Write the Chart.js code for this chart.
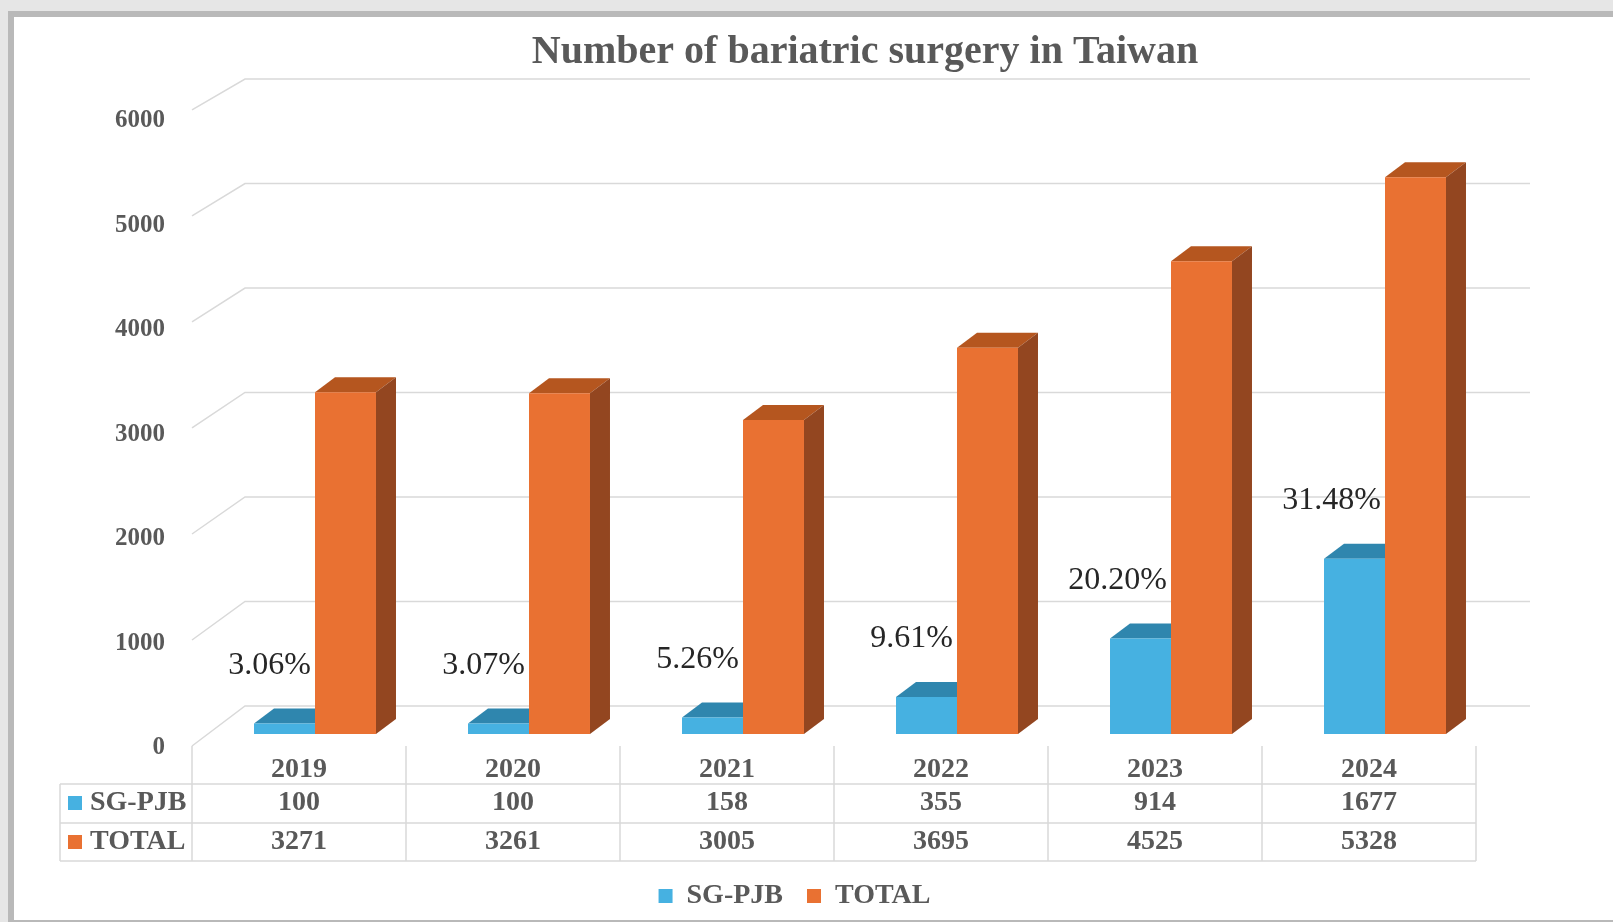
<!DOCTYPE html>
<html>
<head>
<meta charset="utf-8">
<title>Number of bariatric surgery in Taiwan</title>
<script src="https://cdn.jsdelivr.net/npm/chart.js@4.4.1/dist/chart.umd.min.js"></script>
<style>
    body { margin: 0; background: #e6e6e6; overflow: hidden; }
    .frame { position: absolute; left: 8px; top: 11px; right: 0; bottom: 0; background: #b9b9b9; }
    .panel { position: absolute; left: 14px; top: 17px; right: 0; bottom: 2px; background: #ffffff; }
    #chart { position: absolute; left: 0; top: 0; }
</style>
</head>
<body>
<div class="frame"></div>
<div class="panel"></div>
<canvas id="chart" width="1613" height="922"></canvas>
<script>
const years = ['2019', '2020', '2021', '2022', '2023', '2024'];
const sgPjb = [100, 100, 158, 355, 914, 1677];
const total = [3271, 3261, 3005, 3695, 4525, 5328];
const shareLabels = ['3.06%', '3.07%', '5.26%', '9.61%', '20.20%', '31.48%'];

const FONT = 'Liberation Serif, Times New Roman, serif';
const TEXT = '#595959';
const LINE = '#d9d9d9';
const BLUE = '#46b1e1', BLUE_TOP = '#2f86ae';
const ORANGE = '#e97132', ORANGE_TOP = '#b5561f', ORANGE_SIDE = '#934620';
const DX = 20, DY = 15;      // bar depth
const SHIFT = 16;            // table columns sit left of the bars

// 3D look: back wall grid, bar tops and sides, labels, data table
const fakeThreeD = {
    id: 'fakeThreeD',
    afterLayout(chart) {
        chart.titleBlock.left += 15;
        chart.titleBlock.right += 15;
    },
    beforeDatasetsDraw(chart) {
        const ctx = chart.ctx;
        const area = chart.chartArea;
        const y = chart.scales.y;
        const y0 = y.getPixelForValue(0);
        const tableLeft = area.left - SHIFT;

        ctx.save();
        ctx.strokeStyle = LINE;
        ctx.lineWidth = 1.5;
        y.ticks.forEach(t => {
            const py = y.getPixelForValue(t.value);
            const fy = py + 12 + (py - y0) * 0.0144;
            ctx.beginPath();
            ctx.moveTo(tableLeft, fy);
            ctx.lineTo(area.left + 37, py - 28);
            ctx.lineTo(area.right + 38, py - 28);
            ctx.stroke();
        });

        chart.data.datasets.forEach((ds, di) => {
            chart.getDatasetMeta(di).data.forEach(bar => {
                const l = bar.x - bar.width / 2;
                const r = bar.x + bar.width / 2;
                const top = bar.y, base = bar.base;
                ctx.fillStyle = di === 0 ? BLUE_TOP : ORANGE_TOP;
                ctx.beginPath();
                ctx.moveTo(l, top);
                ctx.lineTo(r, top);
                ctx.lineTo(r + DX, top - DY);
                ctx.lineTo(l + DX, top - DY);
                ctx.closePath();
                ctx.fill();
                if (di === 1) {
                    ctx.fillStyle = ORANGE_SIDE;
                    ctx.beginPath();
                    ctx.moveTo(r, top);
                    ctx.lineTo(r + DX, top - DY);
                    ctx.lineTo(r + DX, base - DY);
                    ctx.lineTo(r, base);
                    ctx.closePath();
                    ctx.fill();
                }
            });
        });
        ctx.restore();
    },
    afterDatasetsDraw(chart) {
        const ctx = chart.ctx;
        const blue = chart.getDatasetMeta(0).data;
        const orange = chart.getDatasetMeta(1).data;
        ctx.save();
        ctx.font = '32px ' + FONT;
        ctx.fillStyle = '#262626';
        ctx.textAlign = 'right';
        ctx.textBaseline = 'middle';
        shareLabels.forEach((txt, i) => {
            const o = orange[i];
            ctx.fillText(txt, o.x - o.width / 2 - 4, blue[i].y - 58);
        });
        ctx.restore();
    },
    afterDraw(chart) {
        const ctx = chart.ctx;
        const area = chart.chartArea;
        const x = chart.scales.x;
        const colW = (area.right - area.left) / years.length;
        const left = area.left - SHIFT;
        const right = left + colW * years.length;
        const labelLeft = left - 132;
        const b = area.bottom;
        const rows = [b + 50, b + 89, b + 127];

        ctx.save();
        ctx.strokeStyle = LINE;
        ctx.lineWidth = 1.5;
        ctx.beginPath();
        rows.forEach(ry => { ctx.moveTo(labelLeft, ry); ctx.lineTo(right, ry); });
        for (let i = 0; i <= years.length; i++) {
            const vx = left + colW * i;
            ctx.moveTo(vx, b + 12);
            ctx.lineTo(vx, rows[2]);
        }
        ctx.moveTo(labelLeft, rows[0]);
        ctx.lineTo(labelLeft, rows[2]);
        ctx.stroke();

        ctx.font = 'bold 28px ' + FONT;
        ctx.fillStyle = TEXT;
        ctx.textAlign = 'center';
        ctx.textBaseline = 'middle';
        years.forEach((yr, i) => {
            const cx = x.getPixelForValue(i) - SHIFT;
            ctx.fillText(yr, cx, b + 36);
            ctx.fillText(String(sgPjb[i]), cx, b + 69);
            ctx.fillText(String(total[i]), cx, b + 108);
        });

        const series = [[chart.data.datasets[0].label, BLUE, b + 69], [chart.data.datasets[1].label, ORANGE, b + 108]];
        series.forEach(([name, color, ry]) => {
            ctx.fillStyle = color;
            ctx.fillRect(labelLeft + 8, ry - 7, 14, 14);
            ctx.fillStyle = TEXT;
            ctx.textAlign = 'left';
            ctx.fillText(name, labelLeft + 30, ry);
        });
        ctx.restore();
    }
};

const ctx = document.getElementById('chart').getContext('2d');
new Chart(ctx, {
    type: 'bar',
    data: {
        labels: years,
        datasets: [{
            label: 'SG-PJB',
            data: sgPjb,
            backgroundColor: BLUE,
            borderWidth: 0
        }, {
            label: 'TOTAL',
            data: total,
            backgroundColor: ORANGE,
            borderWidth: 0
        }]
    },
    options: {
        responsive: false,
        animation: false,
        categoryPercentage: 0.57,
        barPercentage: 1.0,
        layout: {
            padding: { left: 97, right: 121, top: 17, bottom: 2 }
        },
        scales: {
            x: {
                grid: { display: false },
                border: { display: false },
                ticks: { display: false },
                afterFit: scale => { scale.height = 124; }
            },
            y: {
                min: 0,
                max: 6000,
                grid: { display: false },
                border: { display: false },
                ticks: {
                    stepSize: 1000,
                    padding: 35,
                    labelOffset: 14,
                    color: TEXT,
                    font: { family: FONT, size: 25, weight: 'bold' },
                    callback: value => String(value)
                },
                afterFit: scale => { scale.width = 111; }
            }
        },
        plugins: {
            title: {
                display: true,
                text: 'Number of bariatric surgery in Taiwan',
                fullSize: false,
                color: TEXT,
                font: { family: FONT, size: 40, weight: 'bold' },
                padding: { top: 12, bottom: 30 }
            },
            legend: {
                position: 'bottom',
                labels: {
                    boxWidth: 14,
                    boxHeight: 14,
                    padding: 24,
                    color: TEXT,
                    font: { family: FONT, size: 28, weight: 'bold' }
                }
            },
            tooltip: { enabled: false }
        }
    },
    plugins: [fakeThreeD]
});
</script>
</body>
</html>
